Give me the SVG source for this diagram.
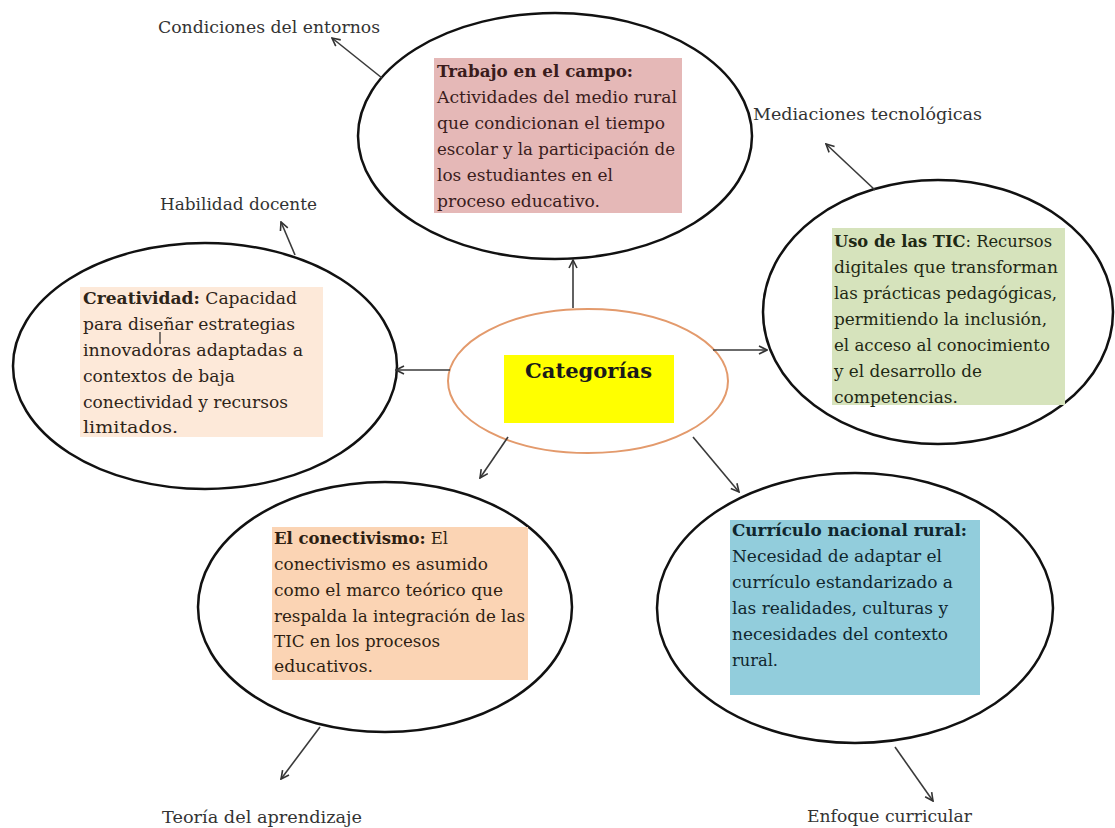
<svg xmlns="http://www.w3.org/2000/svg" width="1115" height="828" viewBox="0 0 1115 828">
<style>
.oval{fill:#fff;stroke:#111;stroke-width:2.5}
.txt{font-family:"DejaVu Serif","Liberation Serif",serif;font-size:16px}
.lbl{font-family:"DejaVu Serif","Liberation Serif",serif;font-size:16px;fill:#333}
.b{font-weight:bold}
.conn{stroke:#3a3a3a;stroke-width:1.6;fill:none;marker-end:url(#arr)}
.p{fill:#3a1c1c}.c{fill:#2e2418}.g{fill:#1e2814}.o{fill:#2e1e12}.u{fill:#10262e}
</style>
<defs>
<marker id="arr" viewBox="0 0 10 10" refX="9" refY="5" markerWidth="10" markerHeight="10" markerUnits="userSpaceOnUse" orient="auto">
<path d="M1,1 L9,5 L1,9" fill="none" stroke="#333" stroke-width="1.6"/>
</marker>
</defs>
<rect width="1115" height="828" fill="#fff"/>

<g id="center">
<ellipse cx="588" cy="381" rx="140" ry="72" fill="#fff" stroke="#E39A6C" stroke-width="2"/>
<rect x="504" y="355" width="170" height="68" fill="#FFFF00"/>
<text x="525" y="378" class="txt b" style="font-size:21px" fill="#1a1a1a" textLength="127" lengthAdjust="spacingAndGlyphs">Categorías</text>
</g>

<g id="trabajo">
<ellipse class="oval" cx="555" cy="136" rx="197" ry="123"/>
<rect x="434" y="58" width="248" height="155" fill="#E5B8B7"/>
<text class="txt p b" x="437" y="77" textLength="196" lengthAdjust="spacingAndGlyphs">Trabajo en el campo:</text>
<text class="txt p" x="437" y="103" textLength="240" lengthAdjust="spacingAndGlyphs">Actividades del medio rural</text>
<text class="txt p" x="437" y="129" textLength="228" lengthAdjust="spacingAndGlyphs">que condicionan el tiempo</text>
<text class="txt p" x="437" y="155" textLength="238" lengthAdjust="spacingAndGlyphs">escolar y la participación de</text>
<text class="txt p" x="437" y="181" textLength="176" lengthAdjust="spacingAndGlyphs">los estudiantes en el</text>
<text class="txt p" x="437" y="207" textLength="163" lengthAdjust="spacingAndGlyphs">proceso educativo.</text>
</g>

<g id="creatividad">
<ellipse class="oval" cx="205" cy="366" rx="192" ry="123"/>
<rect x="80" y="287" width="243" height="150" fill="#FDE9D9"/>
<text class="txt c" x="83" y="304" textLength="214" lengthAdjust="spacingAndGlyphs"><tspan class="b">Creatividad:</tspan> Capacidad</text>
<text class="txt c" x="83" y="330" textLength="212" lengthAdjust="spacingAndGlyphs">para diseñar estrategias</text>
<text class="txt c" x="83" y="356" textLength="220" lengthAdjust="spacingAndGlyphs">innovadoras adaptadas a</text>
<text class="txt c" x="83" y="382" textLength="152" lengthAdjust="spacingAndGlyphs">contextos de baja</text>
<text class="txt c" x="83" y="408" textLength="205" lengthAdjust="spacingAndGlyphs">conectividad y recursos</text>
<text class="txt c" x="83" y="433" textLength="95" lengthAdjust="spacingAndGlyphs">limitados.</text>
<line x1="160" y1="332" x2="160" y2="344" stroke="#222" stroke-width="1.2"/>
</g>

<g id="tic">
<ellipse class="oval" cx="938" cy="312" rx="175" ry="132"/>
<rect x="832" y="228" width="233" height="177" fill="#D6E3BC"/>
<text class="txt g" x="834" y="247" textLength="218" lengthAdjust="spacingAndGlyphs"><tspan class="b">Uso de las TIC</tspan>: Recursos</text>
<text class="txt g" x="834" y="273" textLength="224" lengthAdjust="spacingAndGlyphs">digitales que transforman</text>
<text class="txt g" x="834" y="299" textLength="223" lengthAdjust="spacingAndGlyphs">las prácticas pedagógicas,</text>
<text class="txt g" x="834" y="325" textLength="213" lengthAdjust="spacingAndGlyphs">permitiendo la inclusión,</text>
<text class="txt g" x="834" y="351" textLength="216" lengthAdjust="spacingAndGlyphs">el acceso al conocimiento</text>
<text class="txt g" x="834" y="377" textLength="148" lengthAdjust="spacingAndGlyphs">y el desarrollo de</text>
<text class="txt g" x="834" y="403" textLength="124" lengthAdjust="spacingAndGlyphs">competencias.</text>
</g>

<g id="conectivismo">
<ellipse class="oval" cx="385" cy="607" rx="187" ry="125"/>
<rect x="272" y="527" width="256" height="153" fill="#FBD4B4"/>
<text class="txt o" x="274" y="544" textLength="174" lengthAdjust="spacingAndGlyphs"><tspan class="b">El conectivismo:</tspan> El</text>
<text class="txt o" x="274" y="570" textLength="214" lengthAdjust="spacingAndGlyphs">conectivismo es asumido</text>
<text class="txt o" x="274" y="596" textLength="229" lengthAdjust="spacingAndGlyphs">como el marco teórico que</text>
<text class="txt o" x="274" y="622" textLength="251" lengthAdjust="spacingAndGlyphs">respalda la integración de las</text>
<text class="txt o" x="274" y="647" textLength="166" lengthAdjust="spacingAndGlyphs">TIC en los procesos</text>
<text class="txt o" x="274" y="672" textLength="99" lengthAdjust="spacingAndGlyphs">educativos.</text>
</g>

<g id="curriculo">
<ellipse class="oval" cx="855" cy="608" rx="198" ry="135"/>
<rect x="730" y="520" width="250" height="175" fill="#92CDDC"/>
<text class="txt u b" x="732" y="536" textLength="235" lengthAdjust="spacingAndGlyphs">Currículo nacional rural:</text>
<text class="txt u" x="732" y="562" textLength="210" lengthAdjust="spacingAndGlyphs">Necesidad de adaptar el</text>
<text class="txt u" x="732" y="588" textLength="221" lengthAdjust="spacingAndGlyphs">currículo estandarizado a</text>
<text class="txt u" x="732" y="614" textLength="216" lengthAdjust="spacingAndGlyphs">las realidades, culturas y</text>
<text class="txt u" x="732" y="640" textLength="216" lengthAdjust="spacingAndGlyphs">necesidades del contexto</text>
<text class="txt u" x="732" y="666" textLength="46" lengthAdjust="spacingAndGlyphs">rural.</text>
</g>

<g id="labels">
<text class="lbl" x="158" y="33" textLength="222" lengthAdjust="spacingAndGlyphs">Condiciones del entornos</text>
<text class="lbl" x="160" y="210" textLength="157" lengthAdjust="spacingAndGlyphs">Habilidad docente</text>
<text class="lbl" x="753" y="120" textLength="229" lengthAdjust="spacingAndGlyphs">Mediaciones tecnológicas</text>
<text class="lbl" x="162" y="823" textLength="200" lengthAdjust="spacingAndGlyphs">Teoría del aprendizaje</text>
<text class="lbl" x="807" y="822" textLength="165" lengthAdjust="spacingAndGlyphs">Enfoque curricular</text>
</g>

<g id="connectors">
<line class="conn" x1="573" y1="308" x2="573" y2="260"/>
<line class="conn" x1="382" y1="78" x2="332" y2="38"/>
<line class="conn" x1="450" y1="370" x2="396" y2="370"/>
<line class="conn" x1="295" y1="255" x2="281" y2="222"/>
<line class="conn" x1="713" y1="350" x2="767" y2="350"/>
<line class="conn" x1="875" y1="190" x2="826" y2="144"/>
<line class="conn" x1="508" y1="437" x2="480" y2="478"/>
<line class="conn" x1="320" y1="727" x2="281" y2="779"/>
<line class="conn" x1="693" y1="437" x2="739" y2="492"/>
<line class="conn" x1="895" y1="747" x2="933" y2="801"/>
</g>
</svg>
